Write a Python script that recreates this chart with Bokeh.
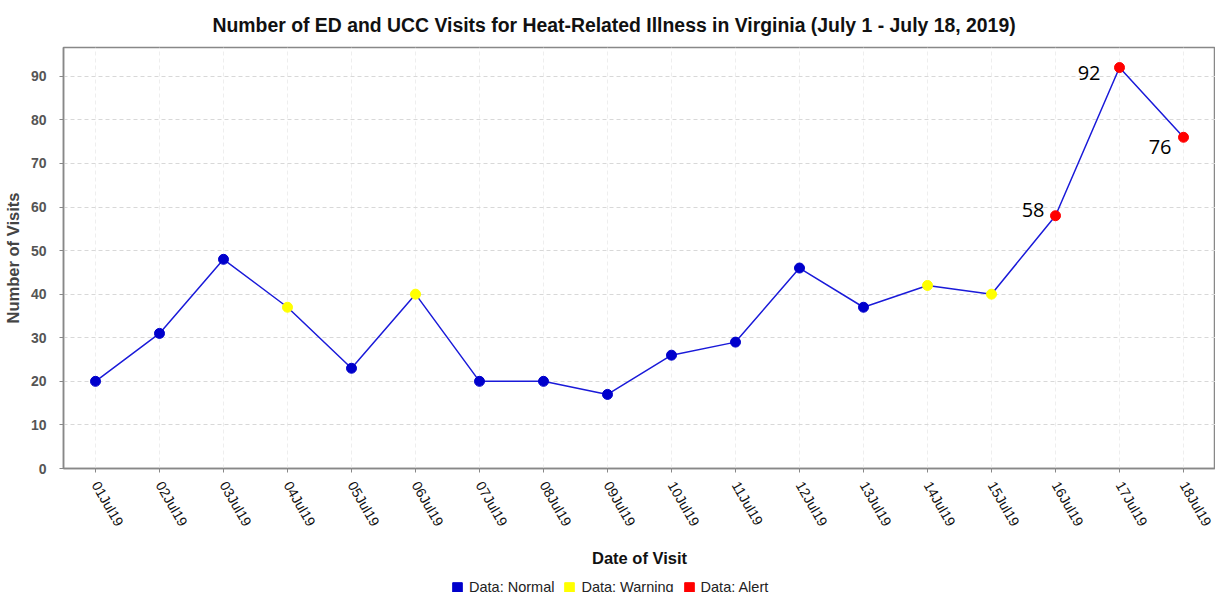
import math
from bokeh.plotting import figure
from bokeh.layouts import column
from bokeh.models import ColumnDataSource, FactorRange, Range1d, Legend, LegendItem, LabelSet, SingleIntervalTicker
from bokeh.core.properties import value
from bokeh.embed import file_html
from bokeh.resources import INLINE

dates = ["01Jul19", "02Jul19", "03Jul19", "04Jul19", "05Jul19", "06Jul19", "07Jul19",
         "08Jul19", "09Jul19", "10Jul19", "11Jul19", "12Jul19", "13Jul19", "14Jul19",
         "15Jul19", "16Jul19", "17Jul19", "18Jul19"]
visits = [20, 31, 48, 37, 23, 40, 20, 20, 17, 26, 29, 46, 37, 42, 40, 58, 92, 76]
status = ["Normal", "Normal", "Normal", "Warning", "Normal", "Warning", "Normal",
          "Normal", "Normal", "Normal", "Normal", "Normal", "Normal", "Warning",
          "Warning", "Alert", "Alert", "Alert"]
status_names = ["Normal", "Warning", "Alert"]
status_colors = {"Normal": "#0000CC", "Warning": "#FFFF00", "Alert": "#FF0000"}

label_dates = ["16Jul19", "17Jul19", "18Jul19"]
label_values = [58, 92, 76]
label_text = ["58", "92", "76"]
label_dx = [-11, -19, -12]
label_dy = [6, -5, -10]

FONT = "Liberation Sans"

p = figure(frame_width=1152, frame_height=421, x_range=FactorRange(*dates), y_range=Range1d(0, 96.6),
           output_backend="svg", toolbar_location=None,
           title="Number of ED and UCC Visits for Heat-Related Illness in Virginia (July 1 - July 18, 2019)",
           min_border_left=63, min_border_right=0, min_border_top=42, min_border_bottom=0)

p.title.text_font = FONT
p.title.text_font_size = "19.4px"
p.title.text_font_style = "bold"
p.title.align = "left"
p.title.offset = 149
p.title.text_color = "#111111"
p.title.standoff = 23

p.outline_line_color = "#888888"
p.outline_line_width = 1.5
p.background_fill_color = "white"

# grids
p.ygrid.grid_line_color = "#d8d8d8"
p.ygrid.grid_line_dash = "4 3"
p.xgrid.grid_line_color = "#eeeeee"
p.xgrid.grid_line_dash = "4 3"

# axes
p.yaxis.ticker = SingleIntervalTicker(interval=10)
p.yaxis.minor_tick_line_color = None
p.yaxis.axis_label = "Number of Visits"
for ax in (p.xaxis[0], p.yaxis[0]):
    ax.axis_line_color = "#888888"
    ax.axis_line_width = 1.5
    ax.major_tick_line_color = "#888888"
    ax.major_tick_in = 0
    ax.major_tick_out = 4
    ax.axis_label_text_font = FONT
    ax.axis_label_text_font_style = "bold"
    ax.axis_label_text_font_size = "16.5px"
    ax.axis_label_text_color = "#333333"
    ax.major_label_text_font = FONT
p.yaxis.major_label_text_font_style = "bold"
p.yaxis.major_label_text_font_size = "14px"
p.yaxis.major_label_text_color = "#555555"
p.yaxis.major_label_standoff = 13
p.yaxis.axis_label_text_color = "#444444"
p.yaxis.axis_label_standoff = 6

p.xaxis.axis_label = "Date of Visit"
p.xaxis.major_label_orientation = -math.pi / 3
p.xaxis.major_label_text_font_size = "14px"
p.xaxis.major_label_text_color = "#111111"
p.xaxis.major_label_standoff = 10
p.xaxis.axis_label_text_color = "#111111"
p.xaxis.axis_label_standoff = 13

src = ColumnDataSource(dict(x=dates, y=visits, c=[status_colors[s] for s in status]))
p.line("x", "y", source=src, line_color="#1a1ad9", line_width=1.5)
p.scatter("x", "y", source=src, size=10, fill_color="c", line_color="c")

lsrc = ColumnDataSource(dict(x=label_dates, y=label_values, t=label_text, dx=label_dx, dy=label_dy))
p.add_layout(LabelSet(x="x", y="y", text="t", source=lsrc, x_offset="dx", y_offset="dy",
                      text_align="right", text_baseline="middle",
                      text_font=value("Open Sans"), text_font_size="20px", text_color="black"))

# legend strip below the chart
lf = figure(width=1215, height=29, x_range=Range1d(0, 1), y_range=Range1d(0, 1),
            output_backend="svg", toolbar_location=None,
            min_border_left=0, min_border_right=0, min_border_top=0, min_border_bottom=0)
lf.axis.visible = False
lf.grid.visible = False
lf.outline_line_color = None
items = []
for name in status_names:
    # legend swatch only: placed outside the visible range
    r = lf.rect(x=[5], y=[5], width=0.1, height=0.1,
                fill_color=status_colors[name], line_color=status_colors[name])
    items.append(LegendItem(label="Data: " + name, renderers=[r]))
legend = Legend(items=items, orientation="horizontal", location=(388, 3),
                border_line_color=None, background_fill_alpha=0,
                label_text_font=FONT, label_text_font_size="14.5px", label_text_color="#222222",
                glyph_width=12, glyph_height=12, spacing=9, label_standoff=6,
                padding=0, margin=0, label_height=14)
lf.add_layout(legend, "center")

layout = column(p, lf, spacing=0)
open("out.html", "w").write(file_html(layout, INLINE))
